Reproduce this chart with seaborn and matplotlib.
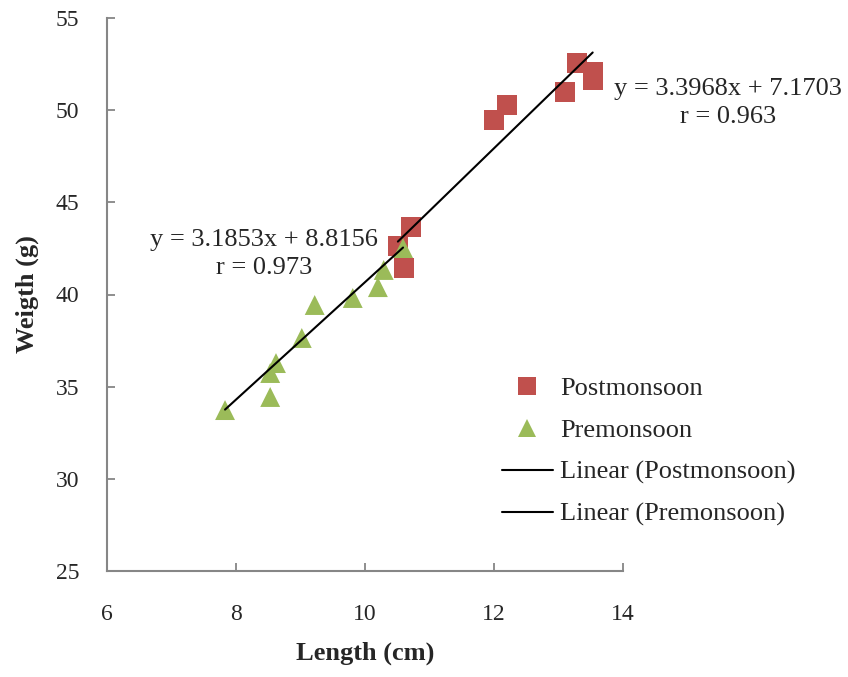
import numpy as np
import pandas as pd
import matplotlib
matplotlib.use("Agg")
import matplotlib.pyplot as plt
from matplotlib.lines import Line2D
import seaborn as sns

# ---- data ----
post_length = [13.29, 13.53, 13.53, 13.10, 12.20, 12.00, 10.71, 10.51, 10.60]
post_weight = [52.56, 52.06, 51.63, 50.98, 50.26, 49.48, 43.66, 42.63, 41.46]
pre_length = [7.83, 8.53, 8.53, 8.62, 9.02, 9.22, 9.81, 10.20, 10.29, 10.59]
pre_weight = [33.73, 34.44, 35.74, 36.28, 37.64, 39.43, 39.81, 40.40, 41.33, 42.52]
seasons = ["Postmonsoon", "Premonsoon"]
fit_slope = [3.3968, 3.1853]
fit_intercept = [7.1703, 8.8156]
fit_r = [0.963, 0.973]
x_ticks = [6, 8, 10, 12, 14]
y_ticks = [25, 30, 35, 40, 45, 50, 55]

colors = {"Postmonsoon": "#C0504D", "Premonsoon": "#9BBB59"}
markers = {"Postmonsoon": "s", "Premonsoon": "^"}

df = pd.DataFrame({
    "Length": post_length + pre_length,
    "Weight": post_weight + pre_weight,
    "Season": [seasons[0]] * len(post_length) + [seasons[1]] * len(pre_length),
})

sns.set_style("white")
plt.rcParams["font.family"] = ["Liberation Serif", "DejaVu Serif"]

fig = plt.figure(figsize=(8.48, 6.77), dpi=100)
ax = fig.add_axes([107 / 848, 1 - 571 / 677, (623 - 107) / 848, (571 - 18) / 677])

sns.scatterplot(data=df, x="Length", y="Weight", hue="Season", style="Season",
                palette=colors, markers=markers, s=205, linewidth=0,
                legend=False, ax=ax, zorder=2)

# trend lines from the stated equations over each data range
fit_rows = []
for name, lx, m, b in zip(seasons, [post_length, pre_length], fit_slope, fit_intercept):
    xs = np.array([min(lx), max(lx)])
    for xv in xs:
        fit_rows.append({"Season": name, "Length": xv, "Weight": m * xv + b})
fit_df = pd.DataFrame(fit_rows)
sns.lineplot(data=fit_df, x="Length", y="Weight", units="Season", estimator=None,
             color="black", linewidth=1.5, ax=ax, legend=False, zorder=3)

ax.set_xlim(6, 14)
ax.set_ylim(25, 55)
ax.set_xticks(x_ticks)
ax.set_yticks(y_ticks)
ax.tick_params(axis="x", bottom=True, direction="in", length=6, width=1.3,
               color="#868686", labelsize=17, pad=24)
ax.tick_params(axis="y", left=True, direction="in", length=6, width=1.3,
               color="#868686", labelsize=17, pad=20)
for side in ["top", "right"]:
    ax.spines[side].set_visible(False)
for side in ["left", "bottom"]:
    ax.spines[side].set_color("#868686")
    ax.spines[side].set_linewidth(1.5)

ax.set_xlabel("Length (cm)", fontsize=19, fontweight="bold", labelpad=12)
ax.set_ylabel("Weigth (g)", fontsize=19, fontweight="bold", labelpad=12)

ax.text(15.63, 50.4, f"y = {fit_slope[0]:.4f}x + {fit_intercept[0]:.4f}\nr = {fit_r[0]:.3f}",
        ha="center", va="center", multialignment="center", fontsize=19,
        clip_on=False, linespacing=1.32)
ax.text(8.43, 42.2, f"y = {fit_slope[1]:.4f}x + {fit_intercept[1]:.4f}\nr = {fit_r[1]:.3f}",
        ha="center", va="center", multialignment="center", fontsize=19,
        clip_on=False, linespacing=1.32)

handles = [
    Line2D([], [], linestyle="none", marker="s", markersize=13,
           markerfacecolor=colors["Postmonsoon"], markeredgewidth=0),
    Line2D([], [], linestyle="none", marker="^", markersize=13,
           markerfacecolor=colors["Premonsoon"], markeredgewidth=0),
    Line2D([], [], color="black", linewidth=1.5),
    Line2D([], [], color="black", linewidth=1.5),
]
labels = ["Postmonsoon", "Premonsoon", "Linear (Postmonsoon)", "Linear (Premonsoon)"]
ax.legend(handles, labels, loc="upper left", bbox_to_anchor=(502 / 848, 1 - 377 / 677),
          bbox_transform=fig.transFigure, frameon=False, fontsize=19,
          borderpad=0, borderaxespad=0, handlelength=1.93, handletextpad=0.27,
          labelspacing=0.69)

fig.savefig("out.png", dpi=100)
